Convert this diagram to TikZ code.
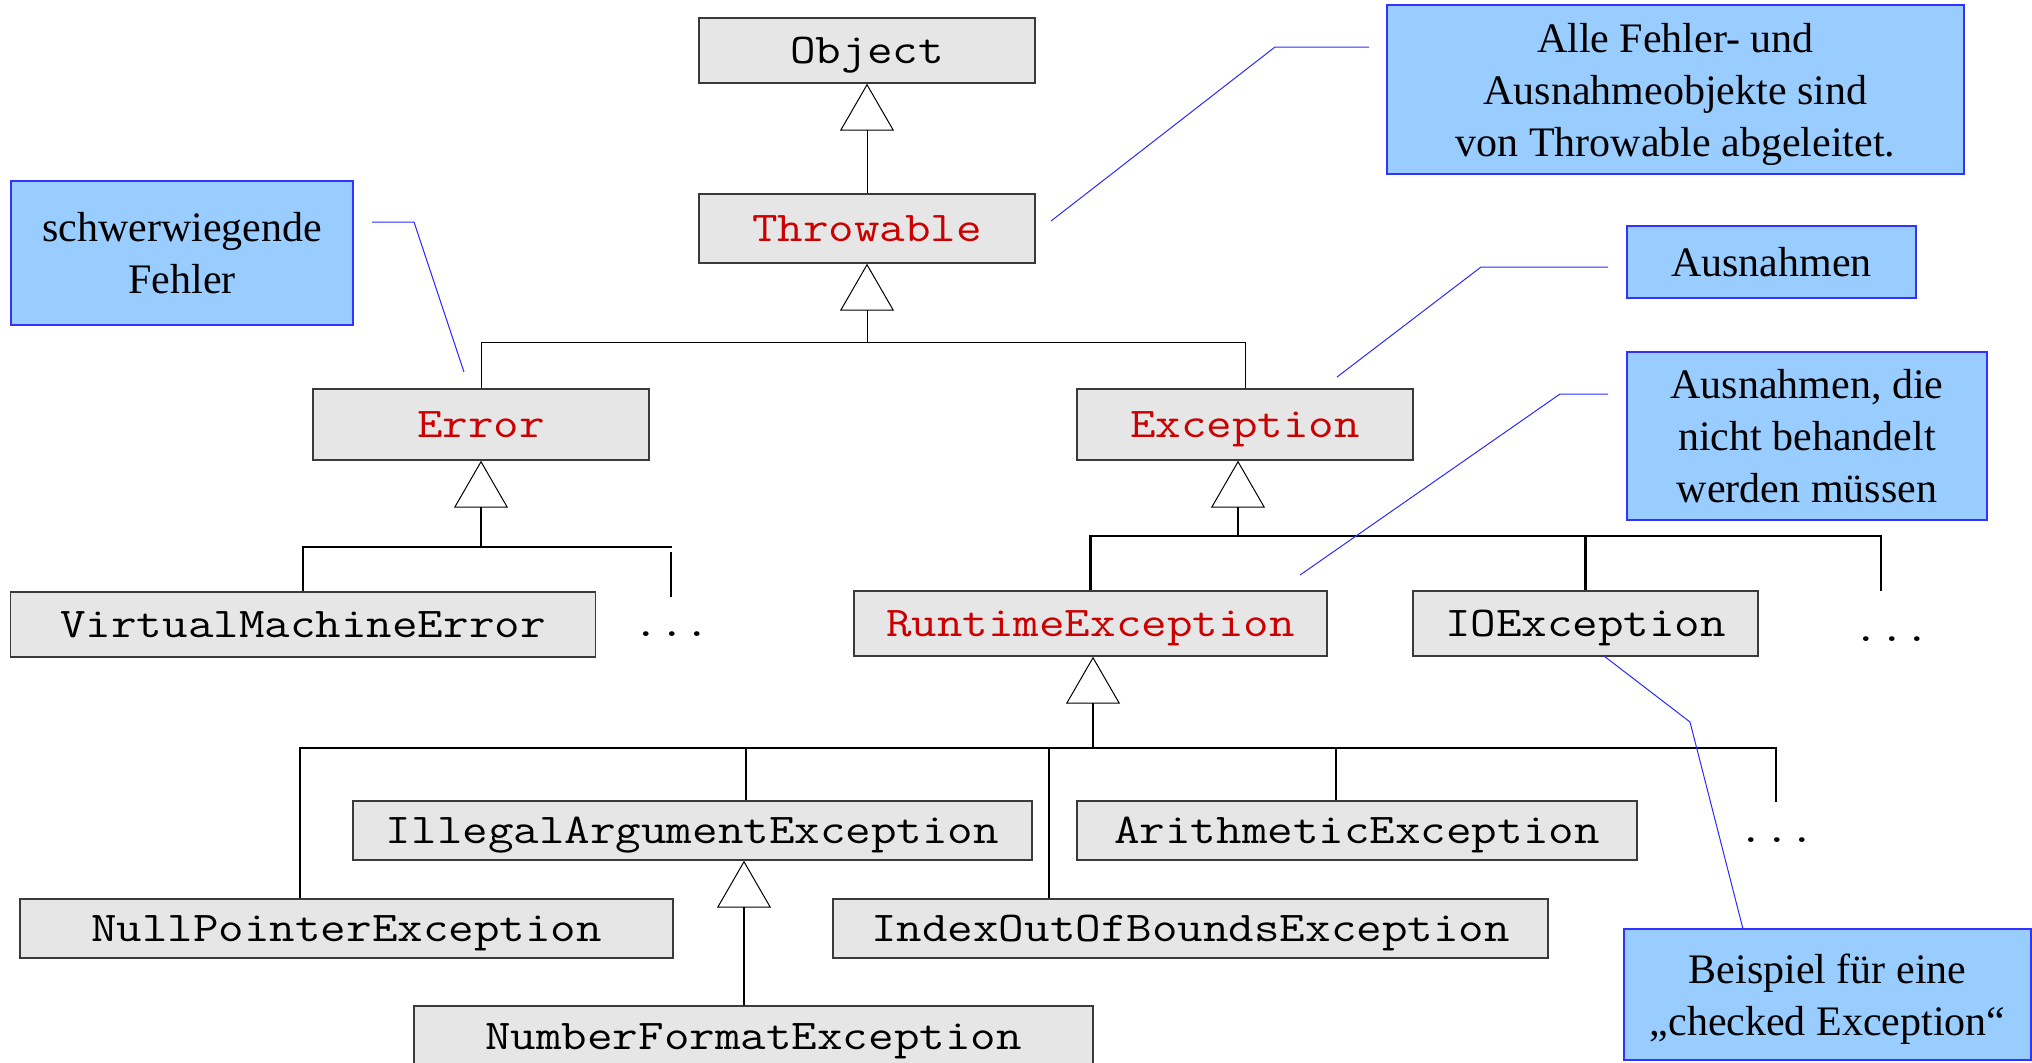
\documentclass[tikz,border=0pt]{standalone}
\usepackage{fontspec}
\setmainfont{Liberation Serif}
\newfontfamily\monof[FakeStretch=1.17]{Latin Modern Mono}
\usetikzlibrary{arrows.meta}
\definecolor{boxfill}{HTML}{E6E6E6}
\definecolor{boxline}{HTML}{3A3A3A}
\definecolor{jred}{HTML}{CC0000}
\definecolor{notefill}{HTML}{99CCFF}
\definecolor{noteline}{HTML}{3333FF}
\definecolor{conn}{HTML}{2A2AFF}
\begin{document}
\begin{tikzpicture}[x=0.5pt,y=-0.5pt,
  cls/.style={draw=boxline, fill=boxfill, line width=0.7pt, inner sep=0pt,
    font=\monof\fontsize{21.2}{25}\selectfont, text height=12.6pt, text depth=0pt},
  jtext/.style={text=jred},
  note/.style={draw=noteline, fill=notefill, line width=0.7pt, inner sep=0pt,
    align=center, font=\fontsize{21}{26}\selectfont, text depth=0pt},
  gen/.style={-{Triangle[open,length=23.5pt,width=27pt,line width=0.5pt]}},
  thinln/.style={line width=0.5pt},
  thickln/.style={line width=1.1pt},
  callout/.style={draw=conn, line width=0.5pt},
  dotsn/.style={font=\monof\fontsize{21.2}{25}\selectfont, inner sep=0pt, anchor=base}
]
\useasboundingbox (0,0) rectangle (2032,1062);

% class boxes
\node[cls, minimum width=168pt, minimum height=32.5pt] (Object) at (867,50.5) {Object};
\node[cls, jtext, minimum width=168pt, minimum height=34.5pt] (Throwable) at (867,228.5) {Throwable};
\node[cls, jtext, minimum width=168pt, minimum height=35.5pt] (Error) at (481,424.5) {Error};
\node[cls, jtext, minimum width=168pt, minimum height=35.5pt] (Exception) at (1245,424.5) {Exception};
\node[cls, minimum width=292.5pt, minimum height=32.5pt] (VME) at (303,624.5) {VirtualMachineError};
\node[cls, jtext, minimum width=236.5pt, minimum height=32.5pt] (RTE) at (1090.5,623.5) {RuntimeException};
\node[cls, minimum width=172.5pt, minimum height=32.5pt] (IOE) at (1585.5,623.5) {IOException};
\node[cls, minimum width=339.5pt, minimum height=29.5pt] (IAE) at (692.5,830.5) {IllegalArgumentException};
\node[cls, minimum width=280pt, minimum height=29.5pt] (AE) at (1357,830.5) {ArithmeticException};
\node[cls, minimum width=326.5pt, minimum height=29.5pt] (NPE) at (346.5,928.5) {NullPointerException};
\node[cls, minimum width=357.5pt, minimum height=29.5pt] (IOOBE) at (1190.5,928.5) {IndexOutOfBoundsException};
\node[cls, minimum width=339.5pt, minimum height=31pt] (NFE) at (753.5,1037) {NumberFormatException};

% dots
\node[dotsn] (dA) at (672,636) {...};
\node[dotsn] (dB) at (1892,641) {...};
\node[dotsn] (dC) at (1777,842) {...};

% notes
\node[note, minimum width=171pt, minimum height=72pt] (nErr) at (182,253) {schwerwiegende\\Fehler};
\node[note, minimum width=288.5pt, minimum height=84.5pt] (nAll) at (1675.5,89.5) {Alle Fehler- und\\Ausnahmeobjekte sind\\von Throwable abgeleitet.};
\node[note, minimum width=144.5pt, minimum height=36pt] (nExc) at (1771.5,262) {Ausnahmen};
\node[note, minimum width=180pt, minimum height=84pt] (nRte) at (1807,436) {Ausnahmen, die\\nicht behandelt\\werden müssen};
\node[note, minimum width=203.5pt, minimum height=65.5pt] (nIoe) at (1827.5,994.5) {Beispiel für eine\\„checked Exception“};

% Object <- Throwable
\draw[thinln, gen] (Throwable.north) -- (Object.south);

% Throwable subtree
\coordinate (tj) at (867,342);
\draw[thinln, gen] (tj) -- (Throwable.south);
\draw[thinln] (Error.north) |- (tj) -| (Exception.north);

% Error subtree
\coordinate (ej) at (481,547);
\coordinate (ejend) at (672,547);
\coordinate (vA1) at (671,552);
\coordinate (vA2) at (671,597);
\draw[thickln, gen] (ej) -- (Error.south);
\draw[thickln] (VME.north) |- (ej) -- (ejend);
\draw[thickln] (vA1) -- (vA2);

% Exception subtree
\coordinate (xj) at (1238,536);
\coordinate (xend) at (1881,591);
\draw[thickln, gen] (xj) -- (xj |- Exception.south);
\draw[thickln] (RTE.north) |- (xj) -- (xj -| xend) -- (xend);
\draw[thickln] (IOE.north) -- (IOE.north |- xj);

% RuntimeException subtree
\coordinate (rj) at (1093,748);
\coordinate (r1) at (300,748);
\coordinate (r2) at (746,748);
\coordinate (r3) at (1049,748);
\coordinate (r4) at (1336,748);
\coordinate (r5) at (1776,748);
\coordinate (r5e) at (1776,802);
\draw[thickln, gen] (rj) -- (rj |- RTE.south);
\draw[thickln] (r1 |- NPE.north) -- (r1) -- (r5) -- (r5e);
\draw[thickln] (r2) -- (r2 |- IAE.north);
\draw[thickln] (r3) -- (r3 |- IOOBE.north);
\draw[thickln] (r4) -- (r4 |- AE.north);

% IllegalArgumentException subtree
\coordinate (ia) at (744,1006);
\draw[thickln, gen] (ia |- NFE.north) -- (ia |- IAE.south);

% callouts
\coordinate (c1a) at (372,222); \coordinate (c1b) at (414,222); \coordinate (c1c) at (464,372);
\draw[callout] (c1a) -- (c1b) -- (c1c);
\coordinate (c2a) at (1369,47); \coordinate (c2b) at (1275,47); \coordinate (c2c) at (1051,221);
\draw[callout] (c2a) -- (c2b) -- (c2c);
\coordinate (c3a) at (1608,267); \coordinate (c3b) at (1481,267); \coordinate (c3c) at (1337,377);
\draw[callout] (c3a) -- (c3b) -- (c3c);
\coordinate (c4a) at (1608,394); \coordinate (c4b) at (1560,394); \coordinate (c4c) at (1300,575);
\draw[callout] (c4a) -- (c4b) -- (c4c);
\coordinate (c5a) at (1604,656); \coordinate (c5b) at (1690,722); \coordinate (c5c) at (1743,929);
\draw[callout] (c5a) -- (c5b) -- (c5c);
\end{tikzpicture}
\end{document}
